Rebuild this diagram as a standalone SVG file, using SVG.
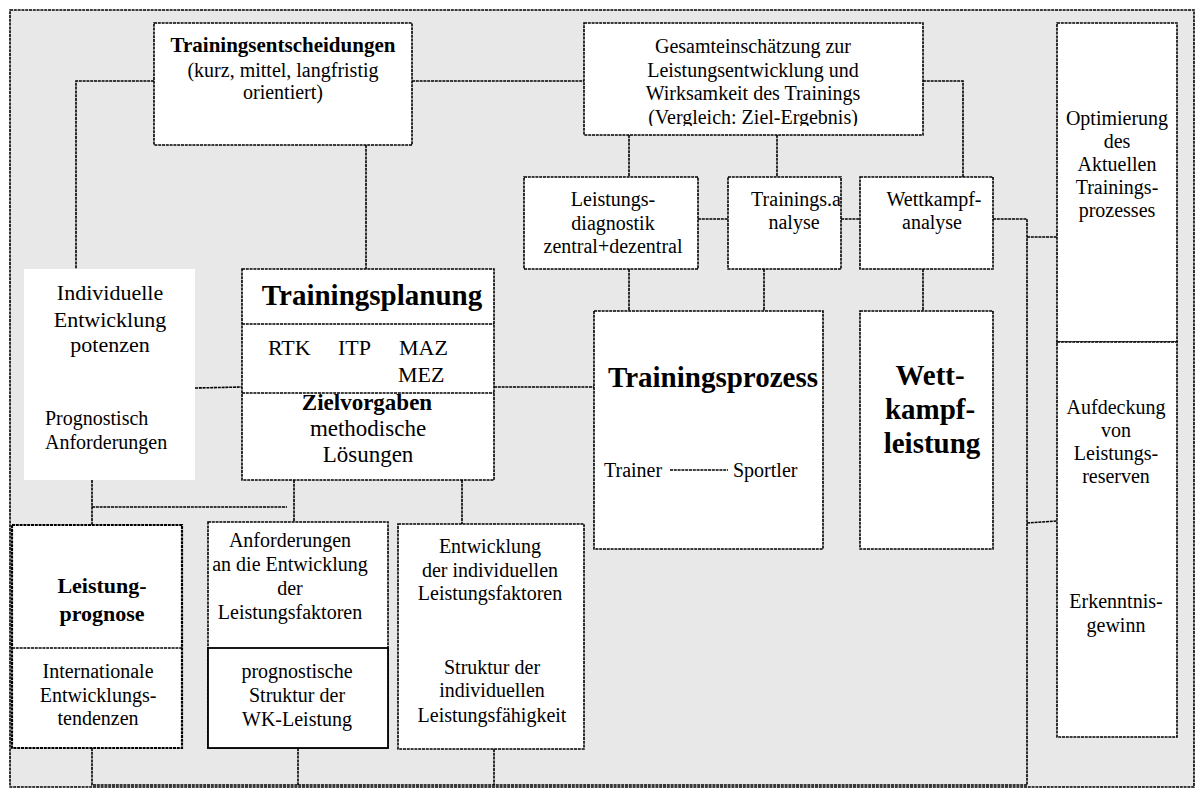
<svg xmlns="http://www.w3.org/2000/svg" width="1199" height="790" viewBox="0 0 1199 790">
<defs>
<style>
.frame{fill:#e8e8e8;stroke:#000;stroke-width:1.6;stroke-dasharray:3 0.8}
.box{fill:#fff;stroke:#000;stroke-width:1.6;stroke-dasharray:3 0.8}
.plain{fill:#fff;stroke:none}
.div{fill:none;stroke:#000;stroke-width:1.6;stroke-dasharray:3 0.8}
.con{fill:none;stroke:#000;stroke-width:1.6;stroke-dasharray:3 0.8}
text{font-family:"Liberation Serif","Times New Roman",serif;font-size:20px;fill:#000;text-anchor:middle}
.b{font-weight:bold}
.l{text-anchor:start}
.s21{font-size:21px}
.s22{font-size:22px}
.s23{font-size:23px}
.s29{font-size:29px}
</style>
<clipPath id="gclip"><rect x="584" y="23" width="339" height="103"/></clipPath>
</defs>
<rect class="frame" x="10" y="10" width="1184" height="777"/>
<g id="connectors">
<path class="con" d="M154 81H76V269"/>
<path class="con" d="M366 145V269"/>
<path class="con" d="M412 81H584"/>
<path class="con" d="M923 81H963V177"/>
<path class="con" d="M629 135V177"/>
<path class="con" d="M777 135V177"/>
<path class="con" d="M698 219H728"/>
<path class="con" d="M841 219H860"/>
<path class="con" d="M993 219H1027V785"/>
<path class="con" d="M1027 237H1057"/>
<path class="con" d="M1027 523L1057 521"/>
<path class="con" d="M629 269V311"/>
<path class="con" d="M764 269V311"/>
<path class="con" d="M923 269V311"/>
<path class="con" d="M195 388L242 387"/>
<path class="con" d="M494 387H594"/>
<path class="con" d="M92 480V525"/>
<path class="con" d="M92 507H287"/>
<path class="con" d="M294 480V522"/>
<path class="con" d="M462 480V524"/>
<path class="con" d="M92 748V785H1027"/>
<path class="con" d="M298 748V785"/>
<path class="con" d="M494 749V785"/>
</g>
<g id="trainingsentscheidungen">
<rect class="box" x="154" y="23" width="258" height="122"/>
<text class="b s21" x="283" y="52">Trainingsentscheidungen</text>
<text x="283" y="77">(kurz, mittel, langfristig</text>
<text x="283" y="99">orientiert)</text>
</g>
<g id="gesamteinschaetzung">
<rect class="box" x="584" y="23" width="339" height="112"/>
<g clip-path="url(#gclip)">
<text x="753" y="53">Gesamteinschätzung zur</text>
<text x="753" y="77">Leistungsentwicklung und</text>
<text x="753" y="100">Wirksamkeit des Trainings</text>
<text x="753" y="124">(Vergleich: Ziel-Ergebnis)</text>
</g>
</g>
<g id="leistungsdiagnostik">
<rect class="box" x="524" y="177" width="174" height="92"/>
<text x="613" y="206">Leistungs-</text>
<text x="613" y="230">diagnostik</text>
<text x="613" y="253">zentral+dezentral</text>
</g>
<g id="trainingsanalyse">
<rect class="box" x="728" y="177" width="113" height="92"/>
<text x="796" y="206">Trainings.a</text>
<text x="794" y="229">nalyse</text>
</g>
<g id="wettkampfanalyse">
<rect class="box" x="860" y="177" width="133" height="92"/>
<text x="934" y="206">Wettkampf-</text>
<text x="932" y="229">analyse</text>
</g>
<g id="optimierung">
<rect class="box" x="1057" y="23" width="120" height="319"/>
<text x="1117" y="125">Optimierung</text>
<text x="1117" y="148">des</text>
<text x="1117" y="171">Aktuellen</text>
<text x="1117" y="194">Trainings-</text>
<text x="1117" y="217">prozesses</text>
</g>
<g id="aufdeckung">
<rect class="box" x="1057" y="342" width="120" height="395"/>
<text x="1116" y="414">Aufdeckung</text>
<text x="1116" y="437">von</text>
<text x="1116" y="460">Leistungs-</text>
<text x="1116" y="483">reserven</text>
<text x="1116" y="608">Erkenntnis-</text>
<text x="1116" y="632">gewinn</text>
</g>
<g id="individuelle">
<rect class="plain" x="24" y="269" width="171" height="211"/>
<text class="s22" x="110" y="300">Individuelle</text>
<text class="s22" x="110" y="327">Entwicklung</text>
<text class="s22" x="110" y="352">potenzen</text>
<text class="l" x="45" y="425">Prognostisch</text>
<text class="l" x="45" y="449">Anforderungen</text>
</g>
<g id="trainingsplanung">
<rect class="box" x="242" y="269" width="252" height="211"/>
<path class="div" d="M242 324H494M242 393H494"/>
<text class="b s29" x="372" y="305">Trainingsplanung</text>
<text class="l s22" x="268" y="355">RTK</text>
<text class="l s22" x="338" y="355">ITP</text>
<text class="l s22" x="399" y="355">MAZ</text>
<text class="l s22" x="398" y="382">MEZ</text>
<text class="b s23" x="367" y="410">Zielvorgaben</text>
<text class="s23" x="368" y="436">methodische</text>
<text class="s23" x="368" y="462">Lösungen</text>
</g>
<g id="trainingsprozess">
<rect class="box" x="594" y="311" width="229" height="238"/>
<text class="b s29" x="713" y="387">Trainingsprozess</text>
<text class="l" x="604" y="477">Trainer</text>
<line class="con" x1="670" y1="470" x2="728" y2="470"/>
<text class="l" x="733" y="477">Sportler</text>
</g>
<g id="wettkampfleistung">
<rect class="box" x="860" y="311" width="133" height="238"/>
<text class="b s29" x="930" y="385">Wett-</text>
<text class="b s29" x="930" y="419">kampf-</text>
<text class="b s29" x="932" y="453">leistung</text>
</g>
<g id="leistungsprognose">
<rect class="box" x="12" y="525" width="170" height="223" style="stroke-width:2.2"/>
<path class="div" d="M12 648H182"/>
<text class="b s22" x="102" y="593">Leistung-</text>
<text class="b s22" x="102" y="621">prognose</text>
<text x="98" y="678">Internationale</text>
<text x="98" y="702">Entwicklungs-</text>
<text x="98" y="725">tendenzen</text>
</g>
<g id="anforderungen">
<rect class="box" x="208" y="522" width="180" height="226"/>
<rect x="208" y="648" width="180" height="100" fill="#fff" stroke="#000" stroke-width="1.8"/>
<text x="290" y="547">Anforderungen</text>
<text x="290" y="571">an die Entwicklung</text>
<text x="290" y="595">der</text>
<text x="290" y="619">Leistungsfaktoren</text>
<text x="297" y="678">prognostische</text>
<text x="297" y="702">Struktur der</text>
<text x="297" y="726">WK-Leistung</text>
</g>
<g id="entwicklung">
<rect class="box" x="398" y="524" width="186" height="225"/>
<text x="490" y="553">Entwicklung</text>
<text x="490" y="577">der individuellen</text>
<text x="490" y="600">Leistungsfaktoren</text>
<text x="492" y="674">Struktur der</text>
<text x="492" y="697">individuellen</text>
<text x="492" y="722">Leistungsfähigkeit</text>
</g>
</svg>
